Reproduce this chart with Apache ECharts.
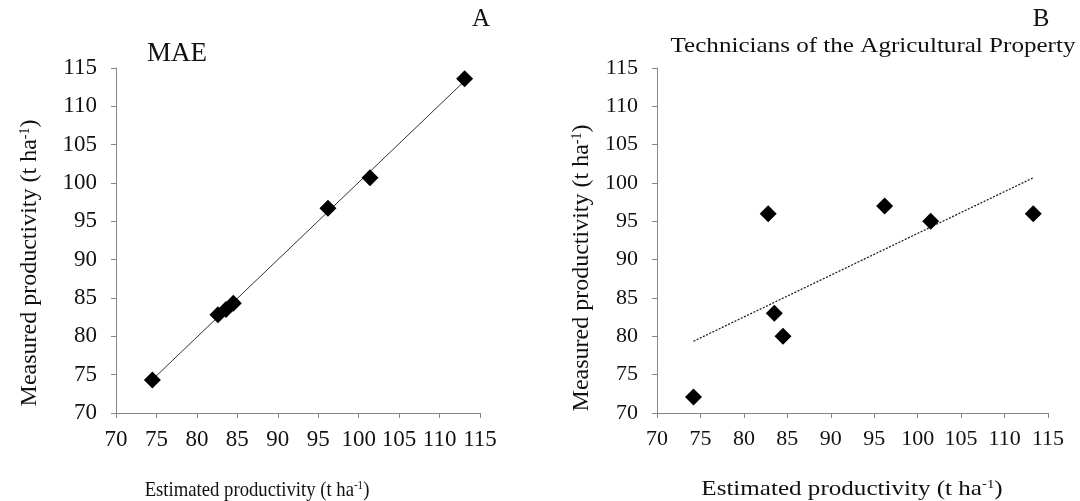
<!DOCTYPE html>
<html>
<head>
<meta charset="utf-8">
<script src="https://cdn.jsdelivr.net/npm/echarts@6/dist/echarts.min.js"></script>
<style>
html,body{margin:0;padding:0;background:#fff;}
#chart{width:1080px;height:501px;}
</style>
</head>
<body>
<div id="chart"></div>
<script>
// ---- Data ----
const axisTicks = [70, 75, 80, 85, 90, 95, 100, 105, 110, 115];
const maeEstimated = [74.5, 82.6, 83.6, 84.5, 96.2, 101.4, 113.1];
const maeMeasured  = [74.3, 82.8, 83.5, 84.3, 96.7, 100.7, 113.6];
const techEstimated = [74.2, 82.8, 83.5, 84.5, 96.2, 101.5, 113.3];
const techMeasured  = [72.1, 96.0, 83.0, 80.0, 97.0, 95.0, 96.0];
const panelTitles = ['MAE', 'Technicians of the Agricultural Property'];
const panelLetters = ['A', 'B'];

function pairs(xs, ys) { return xs.map((x, i) => [x, ys[i]]); }
// least-squares trend line across the observed x range
function trend(xs, ys) {
  const n = xs.length;
  const mx = xs.reduce((a, b) => a + b, 0) / n;
  const my = ys.reduce((a, b) => a + b, 0) / n;
  let sxy = 0, sxx = 0;
  for (let i = 0; i < n; i++) { sxy += (xs[i] - mx) * (ys[i] - my); sxx += (xs[i] - mx) ** 2; }
  const b = sxy / sxx, a = my - b * mx;
  const x0 = Math.min(...xs), x1 = Math.max(...xs);
  return [[x0, a + b * x0], [x1, a + b * x1]];
}

const FONT = '"Liberation Serif", "DejaVu Serif", serif';
const axisCol = '#868686';
const textCol = '#111';

function xAxis(idx, fs) {
  return {
    type: 'value', gridIndex: idx,
    min: axisTicks[0], max: axisTicks[axisTicks.length - 1], interval: 5,
    splitLine: { show: false },
    axisLine: { show: true, onZero: false, lineStyle: { color: axisCol, width: 1 } },
    axisTick: { show: true, inside: false, length: 5, lineStyle: { color: axisCol } },
    axisLabel: { color: textCol, fontFamily: FONT, fontSize: fs, margin: 15, showMinLabel: true, showMaxLabel: true, hideOverlap: false }
  };
}
function yAxis(idx, fs) {
  return {
    type: 'value', gridIndex: idx,
    min: axisTicks[0], max: axisTicks[axisTicks.length - 1], interval: 5,
    splitLine: { show: false },
    axisLine: { show: true, onZero: false, lineStyle: { color: axisCol, width: 1 } },
    axisTick: { show: true, inside: false, length: 5, lineStyle: { color: axisCol } },
    axisLabel: { color: textCol, fontFamily: FONT, fontSize: fs, margin: 19, showMinLabel: true, showMaxLabel: true }
  };
}

function rich(fs) {
  return {
    n: { fontFamily: FONT, fontSize: fs, color: textCol },
    s: { fontFamily: FONT, fontSize: Math.round(fs * 0.6), color: textCol, verticalAlign: 'top', padding: [0, 0, Math.round(fs * 0.4), 0] }
  };
}
const yName = '{n|Measured productivity (t ha}{s|-1}{n|)}';
const xName = '{n|Estimated productivity (t ha}{s|-1}{n|)}';

function textEl(x, y, txt, size, opts) {
  opts = opts || {};
  return {
    type: 'text', x: x, y: y, rotation: opts.rot || 0,
    scaleX: opts.sx || 1, scaleY: opts.sy || 1,
    style: { text: txt, rich: rich(size), fontFamily: FONT, fontSize: size, fill: textCol,
             align: 'center', verticalAlign: 'middle' }
  };
}

const option = {
  animation: false,
  backgroundColor: '#fff',
  grid: [
    { left: 116, right: 600, top: 68, bottom: 88, containLabel: false },
    { left: 657, right: 32, top: 68, bottom: 88, containLabel: false }
  ],
  xAxis: [xAxis(0, 23), xAxis(1, 22)],
  yAxis: [yAxis(0, 23), yAxis(1, 22)],
  series: [
    { type: 'line', xAxisIndex: 0, yAxisIndex: 0, data: trend(maeEstimated, maeMeasured),
      symbol: 'none', lineStyle: { color: '#333', width: 1 }, z: 2 },
    { type: 'scatter', xAxisIndex: 0, yAxisIndex: 0, data: pairs(maeEstimated, maeMeasured),
      symbol: 'diamond', symbolSize: 17, itemStyle: { color: '#000', opacity: 1 }, z: 3 },
    { type: 'line', xAxisIndex: 1, yAxisIndex: 1, data: trend(techEstimated, techMeasured),
      symbol: 'none', lineStyle: { color: '#222', width: 1.3, type: [2, 1.5] }, z: 2 },
    { type: 'scatter', xAxisIndex: 1, yAxisIndex: 1, data: pairs(techEstimated, techMeasured),
      symbol: 'diamond', symbolSize: 17, itemStyle: { color: '#000', opacity: 1 }, z: 3 }
  ],
  graphic: [
    textEl(177, 54, panelTitles[0], 27),
    textEl(873, 46, panelTitles[1], 22, { sx: 1.14 }),
    textEl(481, 19, panelLetters[0], 25),
    textEl(1041, 19, panelLetters[1], 25),
    textEl(30, 263, yName, 24, { rot: Math.PI / 2 }),
    textEl(582, 268, yName, 24, { rot: Math.PI / 2 }),
    textEl(257, 490, xName, 22, { sx: 0.85 }),
    textEl(852, 489, xName, 22, { sx: 1.14 })
  ]
};

echarts.init(document.getElementById('chart'), null, { renderer: 'canvas' }).setOption(option);
</script>
</body>
</html>
